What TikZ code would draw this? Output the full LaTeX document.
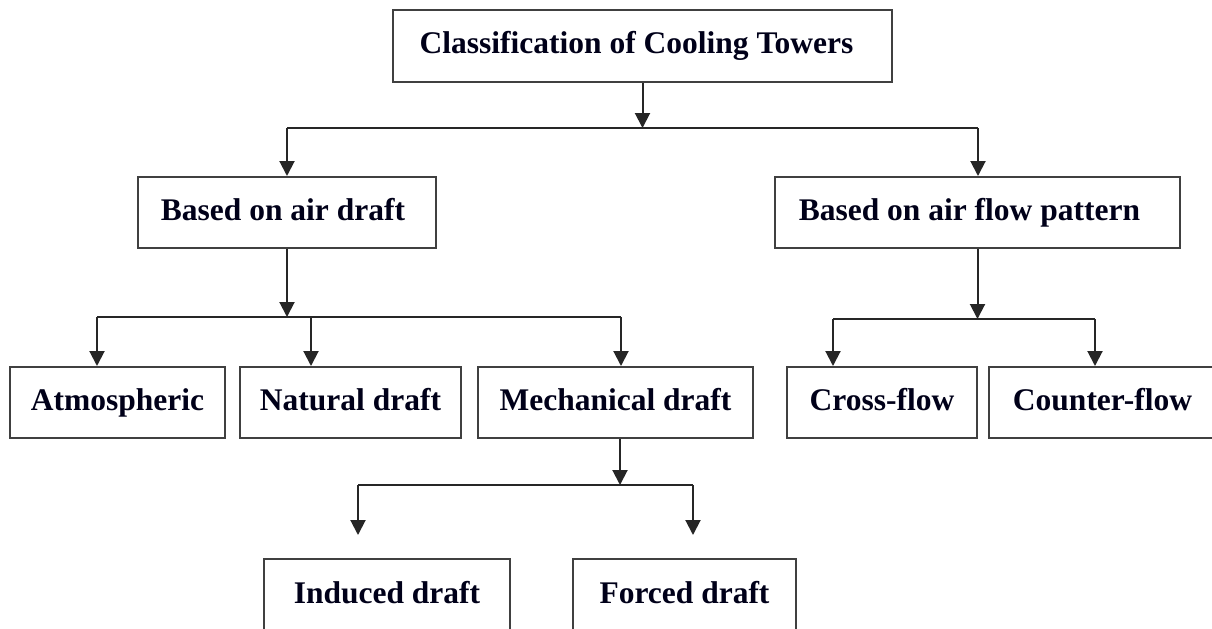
\documentclass[tikz,border=0pt]{standalone}
\usepackage{fontspec}
\setmainfont{Liberation Serif}
\usetikzlibrary{arrows.meta}
\begin{document}
\begin{tikzpicture}[x=0.5pt,y=-0.5pt,
  line width=1pt,
  conn/.style={draw=black!85,line width=1pt},
  boxnode/.style={draw=black!75,line width=1pt,rectangle,inner sep=0pt,
    text height=11pt,text depth=3.5pt,
    font=\fontsize{15.75}{18}\selectfont\bfseries,text=black!90!blue},
  arr/.style={conn,-{Triangle[width=7.5pt,length=7.5pt]}},
  ]
\useasboundingbox (0,0) rectangle (1212,628);
\fill[white] (0,0) rectangle (1212,628);
\clip (0,0) rectangle (1212,628);

% boxes
\node[boxnode,minimum width=249.5pt,minimum height=36pt] (top) at (642.5,46) {\hspace*{-6pt}Classification of Cooling Towers};
\node[boxnode,minimum width=149pt,minimum height=35.5pt] (air) at (287,212.5) {\hspace*{-4pt}Based on air draft};
\node[boxnode,minimum width=202.5pt,minimum height=35.5pt] (flow) at (977.5,212.5) {\hspace*{-8pt}Based on air flow pattern};
\node[boxnode,minimum width=107.5pt,minimum height=35.5pt] (atm) at (117.5,402.5) {Atmospheric};
\node[boxnode,minimum width=110.5pt,minimum height=35.5pt] (nat) at (350.5,402.5) {Natural draft};
\node[boxnode,minimum width=137.5pt,minimum height=35.5pt] (mech) at (615.5,402.5) {Mechanical draft};
\node[boxnode,minimum width=95pt,minimum height=35.5pt] (cross) at (882,402.5) {Cross-flow};
\node[boxnode,minimum width=113.5pt,minimum height=35.5pt] (counter) at (1102.5,402.5) {Counter-flow};
\node[boxnode,minimum width=123pt,text height=22pt,text depth=19pt,anchor=north] (induced) at (387,558) {Induced draft};
\node[boxnode,minimum width=111.5pt,text height=22pt,text depth=19pt,anchor=north] (forced) at (684.5,558) {Forced draft};

% junction coordinates
\coordinate (j0) at (642.5,128);
\coordinate (j0l) at (287,128);
\coordinate (j0r) at (978,128);
\coordinate (j1) at (287,317);
\coordinate (a1) at (97,317);
\coordinate (a2) at (311,317);
\coordinate (a3) at (621,317);
\coordinate (j2) at (977.5,319);
\coordinate (b1) at (833,319);
\coordinate (b2) at (1095,319);
\coordinate (j3) at (620,485);
\coordinate (c1) at (358,485);
\coordinate (c2) at (693,485);
\coordinate (c1e) at (358,535);
\coordinate (c2e) at (693,535);

% level 1
\draw[arr] (top.south -| j0) -- (j0);
\draw[conn] (j0l) -- (j0r);
\draw[arr] (j0l) -- (j0l |- air.north);
\draw[arr] (j0r) -- (j0r |- flow.north);

% air draft children
\draw[arr] (air.south) -- (j1);
\draw[conn] (a1) -- (a3);
\draw[arr] (a1) -- (a1 |- atm.north);
\draw[arr] (a2) -- (a2 |- nat.north);
\draw[arr] (a3) -- (a3 |- mech.north);

% flow pattern children
\draw[arr] (flow.south) -- (j2);
\draw[conn] (b1) -- (b2);
\draw[arr] (b1) -- (b1 |- cross.north);
\draw[arr] (b2) -- (b2 |- counter.north);

% mechanical children
\draw[arr] (mech.south -| j3) -- (j3);
\draw[conn] (c1) -- (c2);
\draw[arr] (c1) -- (c1e);
\draw[arr] (c2) -- (c2e);
\end{tikzpicture}
\end{document}
